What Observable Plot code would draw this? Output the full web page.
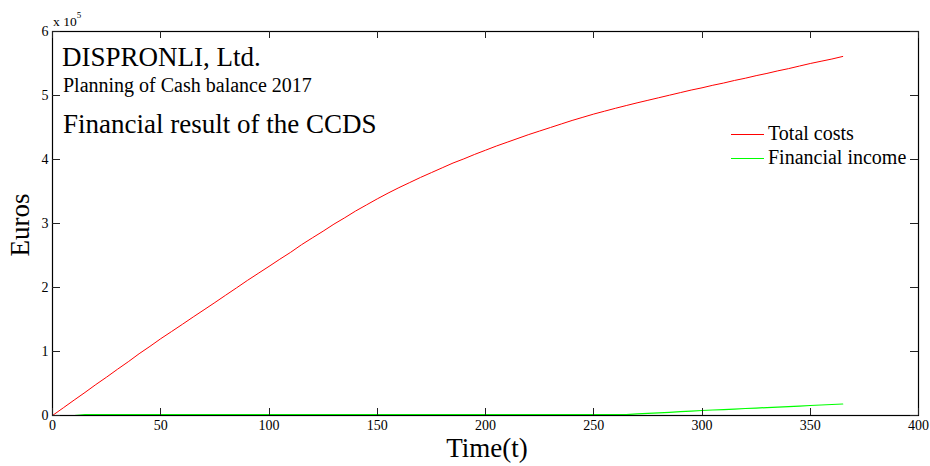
<!DOCTYPE html>
<html>
<head>
<meta charset="utf-8">
<script src="https://cdn.jsdelivr.net/npm/d3@7"></script>
<script src="https://cdn.jsdelivr.net/npm/@observablehq/plot@0.6"></script>
<style>
  html, body { margin: 0; padding: 0; background: #fff; }
</style>
</head>
<body>
<div id="chart"></div>
<script>
// ---------- data ----------
const days = [
  0, 5, 10, 15, 20, 25, 30, 35, 40, 45,
  50, 55, 60, 65, 70, 75, 80, 85, 90, 95,
  100, 105, 110, 115, 120, 125, 130, 135, 140, 145,
  150, 155, 160, 165, 170, 175, 180, 185, 190, 195,
  200, 205, 210, 215, 220, 225, 230, 235, 240, 245,
  250, 255, 260, 265, 270, 275, 280, 285, 290, 295,
  300, 305, 310, 315, 320, 325, 330, 335, 340, 345,
  350, 355, 360, 365
];

const totalCosts = [
  0, 12000, 24100, 36000, 48300, 60000, 72200, 84000, 96500, 108000,
  120000, 131200, 142500, 154000, 165200, 176500, 188000, 199400, 211000, 222000,
  233000, 244200, 255000, 266800, 277500, 288000, 299000, 309000, 319500, 329000,
  338500, 347500, 356000, 364000, 372000, 379500, 387000, 394500, 401000, 408000,
  414500, 421000, 427000, 433000, 439000, 444500, 450000, 455500, 461000, 466000,
  471000, 475500, 480000, 484300, 488500, 492500, 496500, 500500, 504500, 508500,
  512000, 516000, 519500, 523500, 527000, 531000, 534500, 538500, 542000, 546000,
  550000, 553500, 557000, 561000
];

const financialIncome = [
  0, 0, 0, 1500, 1500, 1500, 1500, 1500, 1500, 1500,
  1500, 1500, 1500, 1500, 1500, 1500, 1500, 1500, 1500, 1500,
  1500, 1500, 1500, 1500, 1500, 1500, 1500, 1500, 1500, 1500,
  1500, 1500, 1500, 1500, 1500, 1500, 1500, 1500, 1500, 1500,
  1500, 1500, 1500, 1500, 1500, 1500, 1500, 1500, 1500, 1500,
  1500, 1500, 1500, 1500, 2400, 3300, 4200, 5000, 5900, 6800,
  7800, 8600, 9300, 10100, 10900, 11600, 12400, 13200, 14000, 14800,
  15600, 16400, 17200, 18000
];

const seriesNames = ["Total costs", "Financial income"];
const seriesColors = ["#ff0000", "#00ff00"];

const xTicks = [0, 50, 100, 150, 200, 250, 300, 350, 400];
const yTicks = [0, 100000, 200000, 300000, 400000, 500000, 600000];
const yTickLabels = ["0", "1", "2", "3", "4", "5", "6"];
const exponentBase = "x 10";
const exponentPower = "5";

const titleLines = ["DISPRONLI, Ltd.", "Planning of Cash balance 2017", "Financial result of the CCDS"];
const xLabel = "Time(t)";
const yLabel = "Euros";

// ---------- build ----------
const FONT = "'Liberation Serif', 'Times New Roman', Times, serif";

const costRows = days.map((d, i) => ({day: d, value: totalCosts[i]}));
const incomeRows = days.map((d, i) => ({day: d, value: financialIncome[i]}));

function decorations(index, scales, values, dims) {
  const {x, y} = scales;
  const {width, height, marginLeft, marginRight, marginTop, marginBottom} = dims;
  const x0 = marginLeft, x1 = width - marginRight, y0 = marginTop, y1 = height - marginBottom;
  const g = d3.create("svg:g").attr("font-family", FONT).attr("fill", "#000").attr("text-anchor", "start");

  // inward ticks on all four sides (MATLAB style box)
  const tk = g.append("g").attr("stroke", "#222").attr("stroke-width", 1);
  for (const t of xTicks) {
    const px = Math.round(x(t)) + 0.5;
    tk.append("line").attr("x1", px).attr("x2", px).attr("y1", y1).attr("y2", y1 - 7);
    tk.append("line").attr("x1", px).attr("x2", px).attr("y1", y0).attr("y2", y0 + 7);
  }
  for (const v of yTicks) {
    const py = Math.round(y(v)) + 0.5;
    tk.append("line").attr("x1", x0).attr("x2", x0 + 8).attr("y1", py).attr("y2", py);
    tk.append("line").attr("x1", x1).attr("x2", x1 - 8).attr("y1", py).attr("y2", py);
  }

  // exponent label above the y axis
  const ex = g.append("text").attr("x", x0 + 1).attr("y", y0 - 5).attr("font-size", 13.5).attr("text-anchor", "start");
  ex.append("tspan").text(exponentBase);
  ex.append("tspan").attr("dy", -8).attr("font-size", 9).text(exponentPower);

  // axis labels
  g.append("text").attr("x", (x0 + x1) / 2 + 2).attr("y", y1 + 42)
    .attr("text-anchor", "middle").attr("font-size", 27).text(xLabel);
  g.append("text").attr("transform", `translate(${x0 - 23},${(y0 + y1) / 2 + 2}) rotate(-90)`)
    .attr("text-anchor", "middle").attr("font-size", 27).text(yLabel);

  // titles inside the plot
  g.append("text").attr("x", x0 + 10).attr("y", y0 + 35).attr("font-size", 27).text(titleLines[0]);
  g.append("text").attr("x", x0 + 11).attr("y", y0 + 60.5).attr("font-size", 20).text(titleLines[1]);
  g.append("text").attr("x", x0 + 11).attr("y", y0 + 102).attr("font-size", 27).text(titleLines[2]);

  // legend
  seriesNames.forEach((name, i) => {
    const ly = y0 + 103.5 + i * 24;
    g.append("line").attr("x1", x1 - 187).attr("x2", x1 - 154).attr("y1", ly).attr("y2", ly)
      .attr("stroke", seriesColors[i]).attr("stroke-width", 1);
    g.append("text").attr("x", x1 - 150).attr("y", ly + 5.8).attr("font-size", 20).text(name);
  });
  return g.node();
}

const chart = Plot.plot({
  width: 930,
  height: 466,
  marginLeft: 52,
  marginRight: 12,
  marginTop: 31,
  marginBottom: 51,
  style: {fontFamily: FONT, fontSize: "14px", background: "#fff", color: "#000", overflow: "visible"},
  x: {domain: [0, 400], label: null},
  y: {domain: [0, 600000], label: null},
  marks: [
    Plot.line(costRows, {x: "day", y: "value", stroke: seriesColors[0], strokeWidth: 1}),
    Plot.line(incomeRows, {x: "day", y: "value", stroke: seriesColors[1], strokeWidth: 1.2}),
    Plot.frame({stroke: "#000", strokeWidth: 1.2}),
    Plot.axisX({ticks: xTicks, tickSize: 0, tickPadding: 5, tickFormat: d => String(d), fontSize: 14, label: null}),
    Plot.axisY({ticks: yTicks, tickSize: 0, tickPadding: 4, tickFormat: d => yTickLabels[yTicks.indexOf(d)], fontSize: 14, label: null}),
    decorations
  ]
});

document.getElementById("chart").appendChild(chart);
</script>
</body>
</html>
